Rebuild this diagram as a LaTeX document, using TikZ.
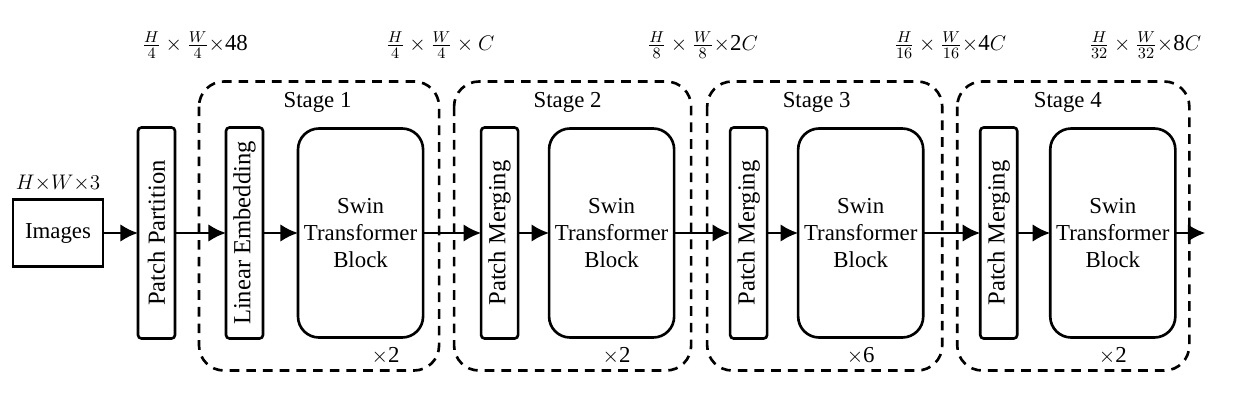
\documentclass[tikz,border=0pt]{standalone}
\usepackage{amsmath}
\usepackage{graphicx}
\usepackage{fontspec}
\setmainfont{Liberation Serif}
\usetikzlibrary{arrows.meta, positioning, calc}

\begin{document}
\begin{tikzpicture}[node distance=0.66cm, font=\fontsize{13}{15.5}\selectfont,
        imgbox/.style={rectangle, draw, line width=1.5pt, outer sep=0pt, minimum width=1.8cm, minimum height=1.34cm},
        thinbox/.style={rectangle, draw, line width=1.5pt, outer sep=0pt, rounded corners=2pt, minimum width=0.74cm, minimum height=4.22cm, inner sep=0pt, font=\fontsize{14}{16}\selectfont},
        swin/.style={rectangle, draw, line width=1.5pt, outer sep=0pt, rounded corners=0.42cm, minimum width=2.48cm, minimum height=4.18cm, align=center},
        stagebox/.style={draw, line width=1.5pt, dash pattern=on 5.5pt off 4pt, rounded corners=0.5cm},
        dim/.style={inner sep=1pt},
        line/.style={draw, line width=1.5pt, -{Latex[length=10pt,width=10pt]}}]

        \useasboundingbox (0,0) rectangle (24.7,8.16);

        % Nodes
        \node [imgbox] (images) at (1.16,3.5) {Images};
        \node [above=1pt of images] (insize) {$H{\times}W{\times}3$};
        \node [thinbox, right=0.7cm of images] (pp) {\rotatebox{90}{Patch Partition}};
        \node [thinbox, right=1.02cm of pp] (le) {\rotatebox{90}{Linear Embedding}};
        \node [swin, right=0.7cm of le] (swin1) {Swin\\Transformer\\Block};
        \node [thinbox, right=1.16cm of swin1] (pm2) {\rotatebox{90}{Patch Merging}};
        \node [swin, right=0.62cm of pm2] (swin2) {Swin\\Transformer\\Block};
        \node [thinbox, right=1.12cm of swin2] (pm3) {\rotatebox{90}{Patch Merging}};
        \node [swin, right=0.62cm of pm3] (swin3) {Swin\\Transformer\\Block};
        \node [thinbox, right=1.14cm of swin3] (pm4) {\rotatebox{90}{Patch Merging}};
        \node [swin, right=of pm4] (swin4) {Swin\\Transformer\\Block};
        \coordinate [right=0.6cm of swin4] (out);

        % Stages
        \draw [stagebox] ($(le.north west)+(-0.54,0.92)$) rectangle ($(swin1.south east)+(0.32,-0.66)$);
        \draw [stagebox] ($(pm2.north west)+(-0.54,0.92)$) rectangle ($(swin2.south east)+(0.34,-0.66)$);
        \draw [stagebox] ($(pm3.north west)+(-0.46,0.92)$) rectangle ($(swin3.south east)+(0.38,-0.66)$);
        \draw [stagebox] ($(pm4.north west)+(-0.46,0.92)$) rectangle ($(swin4.south east)+(0.28,-0.66)$);
        \node at ($(le.north west)!0.5!(swin1.north east)+(-0.14,0.52)$) {Stage 1};
        \node at ($(pm2.north west)!0.5!(swin2.north east)+(-0.2,0.52)$) {Stage 2};
        \node at ($(pm3.north west)!0.5!(swin3.north east)+(-0.2,0.52)$) {Stage 3};
        \node at ($(pm4.north west)!0.5!(swin4.north east)+(-0.2,0.52)$) {Stage 4};
        \node [below=2pt of swin1, xshift=0.5cm] {$\times$2};
        \node [below=2pt of swin2, xshift=0.1cm] {$\times$2};
        \node [below=2pt of swin3] {$\times$6};
        \node [below=2pt of swin4] {$\times$2};

        % Sizes
        \node [dim] at (3.9,7.26) {$\frac{H}{4}\times\frac{W}{4}\times$48};
        \node [dim] at (8.8,7.26) {$\frac{H}{4}\times\frac{W}{4}\times C$};
        \node [dim] at (14.05,7.26) {$\frac{H}{8}\times\frac{W}{8}\times$2$C$};
        \node [dim] at (19.0,7.26) {$\frac{H}{16}\times\frac{W}{16}\times$4$C$};
        \node [dim] at (22.9,7.26) {$\frac{H}{32}\times\frac{W}{32}\times$8$C$};

        % Edges
        \path [line] (images) -- (pp);
        \path [line] (pp) -- (le);
        \path [line] (le) -- (swin1);
        \path [line] (swin1) -- (pm2);
        \path [line] (pm2) -- (swin2);
        \path [line] (swin2) -- (pm3);
        \path [line] (pm3) -- (swin3);
        \path [line] (swin3) -- (pm4);
        \path [line] (pm4) -- (swin4);
        \path [line] (swin4) -- (out);
    \end{tikzpicture}
\end{document}
